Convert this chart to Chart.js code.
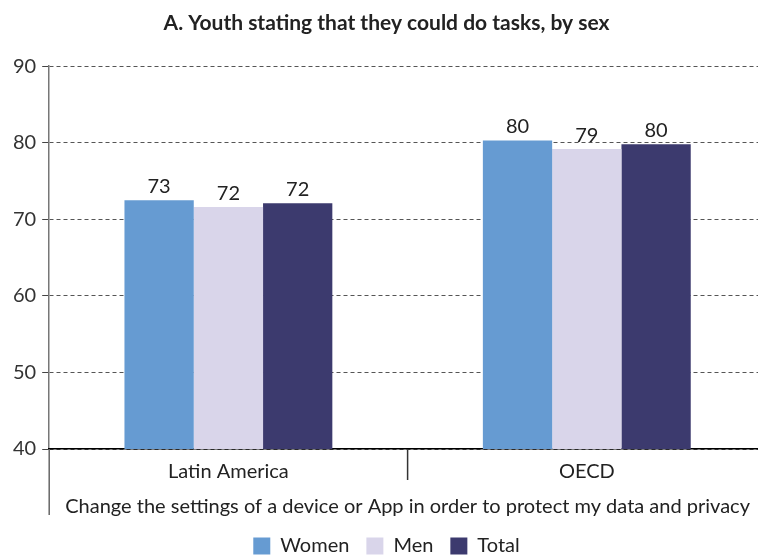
<!DOCTYPE html>
<html>
<head>
<meta charset="utf-8">
<script src="https://cdn.jsdelivr.net/npm/chart.js@4/dist/chart.umd.min.js"></script>
<style>
  html, body { margin: 0; padding: 0; background: #fff; overflow: hidden; }
  #wrap { width: 780px; height: 566px; }
</style>
</head>
<body>
<div id="wrap"><canvas id="chart"></canvas></div>
<script>
const regions = ['Latin America', 'OECD'];
const taskLabel = ['Change the settings of a device or App in order to protect my data and privacy'];
const women = [72.5, 80.3];
const men = [71.6, 79.2];
const total = [72.1, 79.8];
const yTicks = [40, 50, 60, 70, 80, 90];

const FONT = 'Lato';

// value above each bar, rounded to whole percent
const valueLabels = {
    id: 'valueLabels',
    afterDatasetsDraw(chart) {
        const ctx = chart.ctx;
        ctx.save();
        ctx.font = '20px ' + FONT;
        ctx.fillStyle = '#222';
        ctx.textAlign = 'center';
        ctx.textBaseline = 'alphabetic';
        chart.data.datasets.forEach((ds, i) => {
            chart.getDatasetMeta(i).data.forEach((bar, j) => {
                ctx.fillText(String(Math.round(ds.data[j])), bar.x, bar.y - 7);
            });
        });
        ctx.restore();
    }
};

// vertical rules of the two-level category axis
const axisDividers = {
    id: 'axisDividers',
    afterDraw(chart) {
        const ctx = chart.ctx;
        const area = chart.chartArea;
        const x = chart.scales.x;
        const x2 = chart.scales.x2;
        ctx.save();
        ctx.lineWidth = 1.5;
        ctx.strokeStyle = '#666';
        ctx.beginPath();
        ctx.moveTo(area.left, area.bottom);
        ctx.lineTo(area.left, x2.bottom - 4);
        ctx.stroke();
        ctx.strokeStyle = '#333';
        for (let i = 1; i < regions.length; i++) {
            const px = (x.getPixelForValue(i - 1) + x.getPixelForValue(i)) / 2;
            ctx.beginPath();
            ctx.moveTo(px, area.bottom);
            ctx.lineTo(px, area.bottom + 31);
            ctx.stroke();
        }
        ctx.restore();
    }
};

function renderChart() {
    const ctx = document.getElementById('chart');

    new Chart(ctx, {
        type: 'bar',
        data: {
            labels: regions,
            datasets: [
                { label: 'Women', data: women, backgroundColor: '#669bd2' },
                { label: 'Men', data: men, backgroundColor: '#d9d5ea' },
                { label: 'Total', data: total, backgroundColor: '#3c3a6e' }
            ]
        },
        options: {
            responsive: true,
            maintainAspectRatio: false,
            animation: false,
            categoryPercentage: 0.58,
            barPercentage: 1.0,
            layout: { padding: { left: 7, right: 14, top: 0, bottom: 0 } },
            scales: {
                y: {
                    min: 40,
                    max: 90,
                    afterBuildTicks: (scale) => { scale.ticks = yTicks.map(v => ({ value: v })); },
                    ticks: { padding: 6, color: '#333', font: { family: FONT, size: 20 } },
                    grid: { color: '#555', tickColor: '#444', tickLength: 7, lineWidth: 1 },
                    border: { color: '#777', width: 1.5, dash: [4, 3] }
                },
                x: {
                    grid: { display: false },
                    border: { color: '#000', width: 1.5 },
                    ticks: { padding: 3, maxRotation: 0, color: '#222', font: { family: FONT, size: 20 } }
                },
                x2: {
                    type: 'category',
                    position: 'bottom',
                    labels: taskLabel,
                    offset: true,
                    grid: { display: false },
                    border: { display: false },
                    ticks: { padding: 0, maxRotation: 0, autoSkip: false, color: '#222', font: { family: FONT, size: 20 } }
                }
            },
            plugins: {
                title: {
                    display: true,
                    text: 'A. Youth stating that they could do tasks, by sex',
                    color: '#222',
                    font: { family: FONT, size: 21, weight: 'bold' },
                    padding: { top: 11, bottom: 30 }
                },
                legend: {
                    position: 'bottom',
                    labels: {
                        boxWidth: 17,
                        boxHeight: 17,
                        padding: 17,
                        color: '#222',
                        font: { family: FONT, size: 20 }
                    }
                },
                tooltip: { enabled: false }
            }
        },
        plugins: [valueLabels, axisDividers]
    });
}

renderChart();
</script>
</body>
</html>
